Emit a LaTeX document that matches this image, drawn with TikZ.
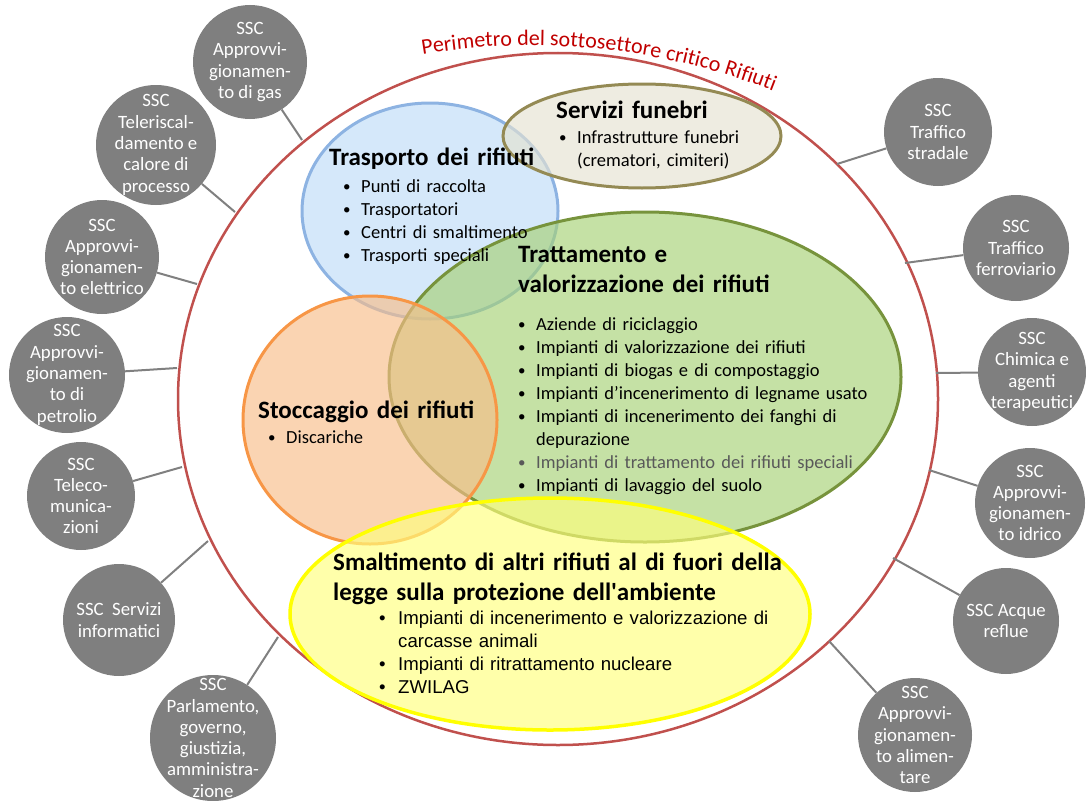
\documentclass[tikz,border=0pt]{standalone}
\usepackage{fontspec}
\setmainfont{Carlito}
\newfontfamily\arialf{Liberation Sans}
\usetikzlibrary{decorations.text}
\definecolor{redl}{HTML}{C0504D}
\definecolor{redt}{HTML}{C00000}
\definecolor{sscgray}{HTML}{7F7F7F}
\definecolor{lngray}{HTML}{808080}
\definecolor{bluef}{HTML}{BEDCF7}
\definecolor{bluel}{HTML}{8DB3E2}
\definecolor{beigef}{HTML}{E5E2D1}
\definecolor{beigel}{HTML}{948A54}
\definecolor{greenf}{HTML}{A6D175}
\definecolor{greenl}{HTML}{77933C}
\definecolor{orangef}{HTML}{F7BD89}
\definecolor{orangel}{HTML}{F79646}
\definecolor{yellowf}{HTML}{FFFF7C}
\definecolor{yellowl}{HTML}{FFFF00}
\definecolor{graytxt}{HTML}{595959}
\newcommand\bul{\makebox[18pt][l]{\raisebox{1pt}{\fontsize{15}{15}\selectfont\textbullet}}}
\newcommand\bula{\makebox[19pt][l]{\textbullet}}
\newcommand\indt{\hspace*{18pt}}
\newcommand\indta{\hspace*{19pt}}
\begin{document}
\begin{tikzpicture}[x=1pt,y=1pt,
  ssc/.style={circle, fill=sscgray, inner sep=0pt, minimum size=#1},
  ssc/.default=112pt,
  ssct/.style={text=white, align=center, inner sep=0pt, font=\fontsize{18.8}{21.3}\selectfont},
  conn/.style={draw=lngray, line width=2pt},
  setl/.style={line width=3pt, fill opacity=.65},
  ttl/.style={anchor=base west, inner sep=0pt, text width=#1, align=left, font=\bfseries\fontsize{25}{30.5}\selectfont},
  ttl/.default=320pt,
  lst/.style={anchor=base west, inner sep=0pt, text width=440pt, align=left, font=\fontsize{18.5}{23}\selectfont},
  lsta/.style={anchor=base west, inner sep=0pt, text width=460pt, align=left, font=\arialf\fontsize{18.6}{23}\selectfont}
]
\useasboundingbox (0,0) rectangle (1086,-800);

% perimeter of the critical subsector
\draw[redl, line width=2.5pt] (558,-399) ellipse [x radius=380pt, y radius=346pt];
\path[decorate, decoration={text along path, text align=center, text color=redt,
  text={|\fontsize{22}{22}\selectfont|Perimetro del sottosettore critico Rifiuti}}]
  (369.9,-65.2) arc[start angle=104, end angle=64, radius=665pt];

% connector ends on the perimeter
\coordinate (egas) at (302,-140);
\coordinate (etele) at (235,-212);
\coordinate (eelet) at (197,-284);
\coordinate (epetr) at (177,-368);
\coordinate (etlc) at (182,-467);
\coordinate (einf) at (208,-541);
\coordinate (eparl) at (278,-637);
\coordinate (estrad) at (837,-164);
\coordinate (eferr) at (905,-263);
\coordinate (echim) at (936,-373);
\coordinate (eidr) at (929,-470);
\coordinate (erefl) at (893,-558);
\coordinate (ealim) at (829,-641);

% SSC circles
\node[ssc=114pt, label={[ssct]center:{SSC\\Approvvi-\\gionamen-\\to di gas}}] (gas) at (250,-62) {};
\node[ssc=120pt, label={[ssct]center:{SSC\\Teleriscal-\\damento e\\calore di\\processo}}] (tele) at (156,-145) {};
\node[ssc=114pt, label={[ssct]center:{SSC\\Approvvi-\\gionamen-\\to elettrico}}] (elet) at (102,-257) {};
\node[ssc=116pt, label={[ssct]center:{SSC\\Approvvi-\\gionamen-\\to di\\petrolio}}] (petr) at (67,-375) {};
\node[ssc=108pt, label={[ssct]center:{SSC\\Teleco-\\munica-\\zioni}}] (tlc) at (81,-496) {};
\node[ssc=112pt, label={[ssct]center:{SSC\ \ Servizi\\informatici}}] (inf) at (119,-620) {};
\node[ssc=126pt, label={[ssct]center:{SSC\\Parlamento,\\governo,\\giustizia,\\amministra-\\zione}}] (parl) at (213,-738) {};
\node[ssc=108pt, label={[ssct]center:{SSC\\Traffico\\stradale}}] (strad) at (938,-132) {};
\node[ssc=106pt, label={[ssct]center:{SSC\\Traffico\\ferroviario}}] (ferr) at (1016,-248) {};
\node[ssc=108pt, label={[ssct]center:{SSC\\Chimica e\\agenti\\terapeutici}}] (chim) at (1032,-372) {};
\node[ssc=110pt, label={[ssct]center:{SSC\\Approvvi-\\gionamen-\\to idrico}}] (idr) at (1030,-503) {};
\node[ssc=106pt, label={[ssct]center:{SSC Acque\\reflue}}] (refl) at (1006,-621) {};
\node[ssc=114pt, label={[ssct]center:{SSC\\Approvvi-\\gionamen-\\to alimen-\\tare}}] (alim) at (915,-735) {};

\draw[conn] (gas) -- (egas);
\draw[conn] (tele) -- (etele);
\draw[conn] (elet) -- (eelet);
\draw[conn] (petr) -- (epetr);
\draw[conn] (tlc) -- (etlc);
\draw[conn] (inf) -- (einf);
\draw[conn] (parl) -- (eparl);
\draw[conn] (strad) -- (estrad);
\draw[conn] (ferr) -- (eferr);
\draw[conn] (chim) -- (echim);
\draw[conn] (idr) -- (eidr);
\draw[conn] (refl) -- (erefl);
\draw[conn] (alim) -- (ealim);

% sets
\draw[setl, draw=bluel, fill=bluef] (430,-211) ellipse [x radius=128pt, y radius=108pt];
\draw[setl, draw=beigel, fill=beigef] (642,-136) ellipse [x radius=139pt, y radius=52pt];
\draw[setl, draw=greenl, fill=greenf] (645,-377) ellipse [x radius=256pt, y radius=165pt];
\draw[setl, draw=orangel, fill=orangef] (370,-420) ellipse [x radius=127pt, y radius=124pt];
\draw[setl, draw=yellowl, fill=yellowf, line width=3.5pt] (550,-614) ellipse [x radius=260pt, y radius=116pt];

% texts
\node[ttl] (tTrasp) at (329,-165) {Trasporto dei rifiuti};
\node[lst] (lTrasp) at (343,-192) {\bul Punti di raccolta\\\bul Trasportatori\\\bul Centri di smaltimento\\\bul Trasporti speciali};

\node[ttl] (tFun) at (556,-118) {Servizi funebri};
\node[lst] (lFun) at (559,-143) {\bul Infrastrutture funebri\\\indt(crematori, cimiteri)};

\node[ttl] (tTratt) at (518,-262) {Trattamento e\\valorizzazione dei rifiuti};
\node[lst] (lTratt) at (518,-330) {\bul Aziende di riciclaggio\\\bul Impianti di valorizzazione dei rifiuti\\\bul Impianti di biogas e di compostaggio\\\bul Impianti d’incenerimento di legname usato\\\bul Impianti di incenerimento dei fanghi di\\\indt depurazione\\\textcolor{graytxt}{\bul Impianti di trattamento dei rifiuti speciali}\\\bul Impianti di lavaggio del suolo};

\node[ttl] (tStocc) at (258,-418) {Stoccaggio dei rifiuti};
\node[lst] (lStocc) at (268,-443) {\bul Discariche};

\node[ttl=480pt] (tSmalt) at (333,-570) {Smaltimento di altri rifiuti al di fuori della\\legge sulla protezione dell\textquotesingle ambiente};
\node[lsta] (lSmalt) at (379,-624) {\bula Impianti di incenerimento e valorizzazione di\\\indta carcasse animali\\\bula Impianti di ritrattamento nucleare\\\bula ZWILAG};
\end{tikzpicture}
\end{document}
